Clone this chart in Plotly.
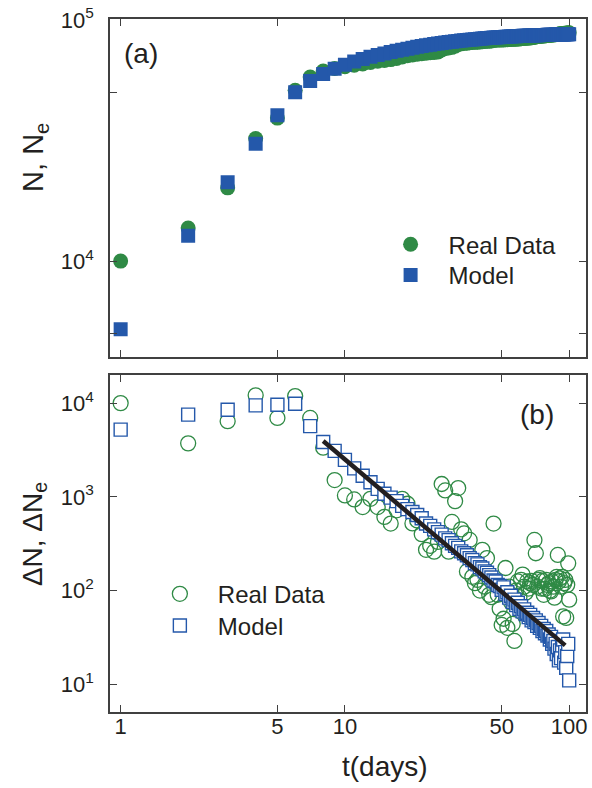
import numpy as np
import plotly.graph_objects as go

# ---------------- data ----------------
days = list(range(1, 101))

real_daily = [
    10000, 3720, 6410, 12100, 6950, 11900, 6950, 3350, 1510, 1035,
    938, 778, 953, 778, 611, 519, 718, 953, 844, 520,
    560, 400, 272, 300, 260, 330, 1370, 1170, 260, 540,
    900, 1240, 450, 408, 160, 347, 140, 120, 130, 100,
    272, 110, 222, 90, 85, 519, 120, 90, 64, 43,
    50, 174, 40, 110, 75, 44, 29, 100, 125, 85,
    130, 148, 110, 95, 125, 105, 120, 127, 115, 347,
    250, 110, 130, 136, 105, 127, 90, 104, 130, 115,
    120, 100, 98, 125, 110, 84, 130, 140, 240, 125,
    135, 110, 140, 53, 120, 130, 51, 115, 195, 80,
]

model_daily = [
    5220, 7530, 8490, 9450, 9600, 9830, 5680, 3850, 3090, 2480,
    2010, 1680, 1430, 1215, 1080, 980, 900, 800, 740, 690,
    640, 590, 520, 490, 450, 420, 395, 360, 345, 320,
    300, 285, 262, 250, 238, 222, 212, 196, 190, 178,
    172, 160, 155, 146, 138, 128, 125, 115, 112, 102,
    108, 92, 96, 84, 88, 76, 80, 70, 74, 64,
    68, 60, 63, 56, 58, 52, 55, 48, 51, 46,
    48, 42, 45, 40, 42, 37, 39, 35, 37, 33,
    34, 30, 32, 27, 29, 24, 27, 21, 25, 18,
    23, 19, 26, 30, 17, 22, 15, 20, 27, 11,
]

# cumulative counts (top panel) are the running sums of the daily counts
real_cum = np.cumsum(real_daily)
model_cum = np.cumsum(model_daily)

# power-law guide line in panel (b)
fit_days = [8, 96]
fit_values = [3940, 26]

x_tick_vals = [1, 5, 10, 50, 100]
x_tick_text = ["1", "5", "10", "50", "100"]
top_y_tick_vals = [5e3, 1e4, 5e4, 1e5]
top_y_tick_text = ["", "10<sup>4</sup>", "", "10<sup>5</sup>"]
bot_y_tick_vals = [10, 100, 1000, 10000]
bot_y_tick_text = ["10<sup>1</sup>", "10<sup>2</sup>", "10<sup>3</sup>", "10<sup>4</sup>"]

# ---------------- styling ----------------
GREEN = "#2f8a45"
BLUE = "#2458aa"
TXT = "#231f20"
AX = "#404040"
FONT = "Liberation Sans, Arial, sans-serif"

W, H = 592, 788
ML, MR, MT, MB = 110, 4, 12, 76
PW = W - ML - MR
PH = H - MT - MB


def px_x(px):
    return (px - ML) / PW


def px_y(py):
    return (H - MB - py) / PH


fig = go.Figure()

fig.add_trace(go.Scatter(
    x=days, y=real_cum, mode="markers", name="Real Data",
    marker=dict(symbol="circle", size=15, color=GREEN, line=dict(width=0)),
    xaxis="x", yaxis="y", legend="legend"))
fig.add_trace(go.Scatter(
    x=days, y=model_cum, mode="markers", name="Model",
    marker=dict(symbol="square", size=14, color=BLUE, line=dict(width=0)),
    xaxis="x", yaxis="y", legend="legend2"))

fig.add_trace(go.Scatter(
    x=days, y=real_daily, mode="markers", name="Real Data",
    marker=dict(symbol="circle-open", size=15, color=GREEN,
                line=dict(width=1.3, color=GREEN)),
    xaxis="x2", yaxis="y2", legend="legend3"))
fig.add_trace(go.Scatter(
    x=days, y=model_daily, mode="markers", name="Model",
    marker=dict(symbol="square", size=13, color="white",
                line=dict(width=1.4, color=BLUE)),
    xaxis="x2", yaxis="y2", legend="legend4"))
fig.add_trace(go.Scatter(
    x=fit_days, y=fit_values, mode="lines", showlegend=False,
    line=dict(color=TXT, width=4.5),
    xaxis="x2", yaxis="y2"))

axis_common = dict(
    type="log", showline=True, linecolor=AX, linewidth=1.5,
    mirror="allticks", ticks="inside", ticklen=7, tickwidth=1.3,
    tickcolor=AX, showgrid=False, zeroline=False,
    ticklabeloverflow="allow",
    tickfont=dict(size=22, color=TXT, family=FONT),
)

x_range = [-0.0475, 2.075]

ITEMW = 66  # symbol-to-text spacing of legend entries


def legend_at(sym_x, sym_y):
    # symbol centre sits ITEMW/2 + 5 px right of the legend's left edge
    return dict(x=px_x(sym_x - ITEMW / 2 - 5), y=px_y(sym_y),
                xanchor="left", yanchor="middle",
                font=dict(size=24, color=TXT, family=FONT),
                bgcolor="rgba(0,0,0,0)", itemsizing="trace",
                itemwidth=ITEMW, borderwidth=0)


fig.update_layout(
    width=W, height=H,
    margin=dict(l=ML, r=MR, t=MT, b=MB),
    paper_bgcolor="white", plot_bgcolor="white",
    font=dict(family=FONT, color=TXT),
    xaxis=dict(axis_common, range=x_range, domain=[0, 1], anchor="y",
               tickmode="array", tickvals=x_tick_vals,
               ticktext=x_tick_text, showticklabels=False),
    yaxis=dict(axis_common, range=[3.604, 5.004], domain=[px_y(353), 1],
               anchor="x", tickmode="array", tickvals=top_y_tick_vals,
               ticktext=top_y_tick_text, ticklabelstandoff=10),
    xaxis2=dict(axis_common, range=x_range, domain=[0, 1], anchor="y2",
                tickmode="array", tickvals=x_tick_vals,
                ticktext=x_tick_text, ticklabelstandoff=-6),
    yaxis2=dict(axis_common, range=[0.704, 4.299], domain=[0, px_y(371.7)],
                anchor="x2", tickmode="array", tickvals=bot_y_tick_vals,
                ticktext=bot_y_tick_text, ticklabelstandoff=10),
    legend=legend_at(411.7, 240),
    legend2=legend_at(411.7, 271),
    legend3=legend_at(180, 593),
    legend4=legend_at(180, 625),
    showlegend=True,
)

annotations = [
    dict(text="(a)", x=px_x(141), y=px_y(47), xref="paper", yref="paper",
         showarrow=False, xanchor="center", yanchor="middle",
         font=dict(size=28, color=TXT, family=FONT)),
    dict(text="(b)", x=px_x(539), y=px_y(411), xref="paper", yref="paper",
         showarrow=False, xanchor="center", yanchor="middle",
         font=dict(size=28, color=TXT, family=FONT)),
    dict(text="N, N<sub>e</sub>", x=px_x(34), y=px_y(152), xref="paper",
         yref="paper", showarrow=False, textangle=-90,
         xanchor="center", yanchor="middle",
         font=dict(size=29, color=TXT, family=FONT)),
    dict(text="ΔN, ΔN<sub>e</sub>", x=px_x(34), y=px_y(532), xref="paper",
         yref="paper", showarrow=False, textangle=-90,
         xanchor="center", yanchor="middle",
         font=dict(size=28, color=TXT, family=FONT)),
    dict(text="t(days)", x=px_x(386), y=px_y(767), xref="paper",
         yref="paper", showarrow=False, xanchor="center", yanchor="middle",
         font=dict(size=28, color=TXT, family=FONT)),
]
fig.update_layout(annotations=annotations)

fig.write_html("out.html", config={"displayModeBar": False})

# remove the browser's default page margin so the figure sits at (0, 0)
with open("out.html", encoding="utf-8") as f:
    html = f.read()
html = html.replace("<body>", '<body style="margin:0;padding:0;overflow:hidden">', 1)
with open("out.html", "w", encoding="utf-8") as f:
    f.write(html)
